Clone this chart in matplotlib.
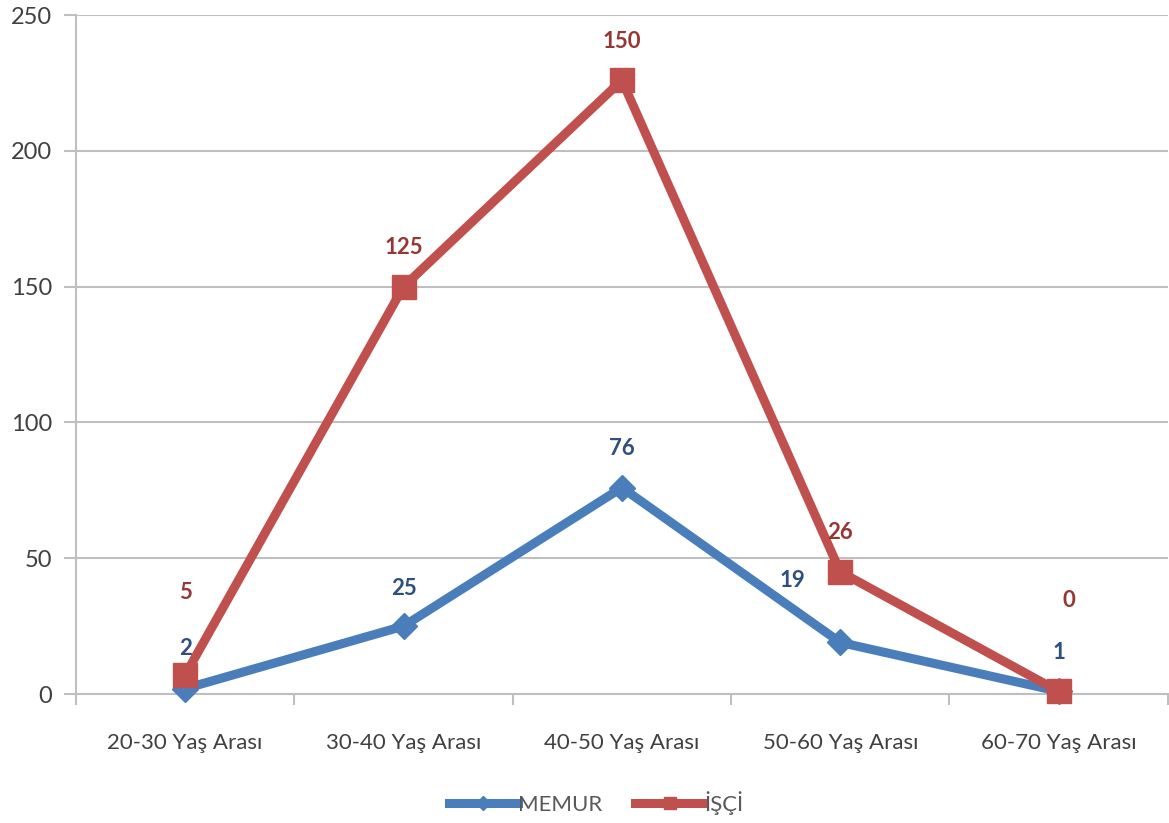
import matplotlib.pyplot as plt
import numpy as np

plt.rcParams['font.family'] = ['Lato', 'DejaVu Sans']

categories = ['20-30 Yaş Arası', '30-40 Yaş Arası', '40-50 Yaş Arası',
              '50-60 Yaş Arası', '60-70 Yaş Arası']
memur = [2, 25, 76, 19, 1]
isci = [5, 125, 150, 26, 0]

# stacked line chart (Excel style): second series drawn on top of the first
x = np.arange(len(categories))
memur_top = np.array(memur)
isci_top = memur_top + np.array(isci)

blue = '#4A7EBB'
red = '#C0504D'
grid_c = '#BFBFBF'

fig = plt.figure(figsize=(11.69, 8.23), dpi=100)
ax = fig.add_axes([0.065, 0.1567, 0.934, 0.825])

ax.plot(x, memur_top, color=blue, lw=6.5, marker='D', ms=13, label='MEMUR',
        solid_joinstyle='round', zorder=3, clip_on=False)
ax.plot(x, isci_top, color=red, lw=6.5, marker='s', ms=17, label='İŞÇİ',
        solid_joinstyle='round', zorder=3, clip_on=False)

# label offsets in pixels (dx, dy)
memur_off = [(0, 40), (0, 38), (0, 39), (-48, 62), (0, 39)]
isci_off = [(0, 83), (0, 39), (0, 39), (0, 39), (10, 91)]
for i in x:
    ax.annotate(str(memur[i]), (i, memur_top[i]), xytext=memur_off[i],
                textcoords='offset pixels', ha='center', va='center',
                fontsize=16, fontweight='bold', color='#2F4F7F', zorder=4)
    ax.annotate(str(isci[i]), (i, isci_top[i]), xytext=isci_off[i],
                textcoords='offset pixels', ha='center', va='center',
                fontsize=16, fontweight='bold', color='#953735', zorder=4)

ax.set_xlim(-0.5, len(categories) - 0.5)
ax.set_ylim(0, 250)
ax.set_yticks(range(0, 251, 50))
ax.set_xticks(x)
ax.set_xticklabels(categories)
ax.set_xticks(np.arange(-0.5, len(categories), 1), minor=True)
ax.tick_params(axis='x', which='major', length=0, pad=28, labelsize=16, labelcolor='#404040')
ax.tick_params(axis='x', which='minor', length=8, color=grid_c, width=1.5)
ax.tick_params(axis='y', length=9, color=grid_c, width=1.5, pad=8, labelsize=17,
               labelcolor='#404040')

ax.grid(axis='y', color=grid_c, lw=1.5)
ax.set_axisbelow(True)
for s in ['top', 'right']:
    ax.spines[s].set_visible(False)
for s in ['left', 'bottom']:
    ax.spines[s].set_color(grid_c)
    ax.spines[s].set_linewidth(1.5)

leg = fig.legend(loc='center', bbox_to_anchor=(0.51, 0.024), ncol=2, frameon=False,
                 fontsize=16, handlelength=3.1, handletextpad=0.0, columnspacing=1.5,
                 markerscale=0.55)
for t in leg.get_texts():
    t.set_color('#595959')

fig.savefig('out.png', dpi=100)
